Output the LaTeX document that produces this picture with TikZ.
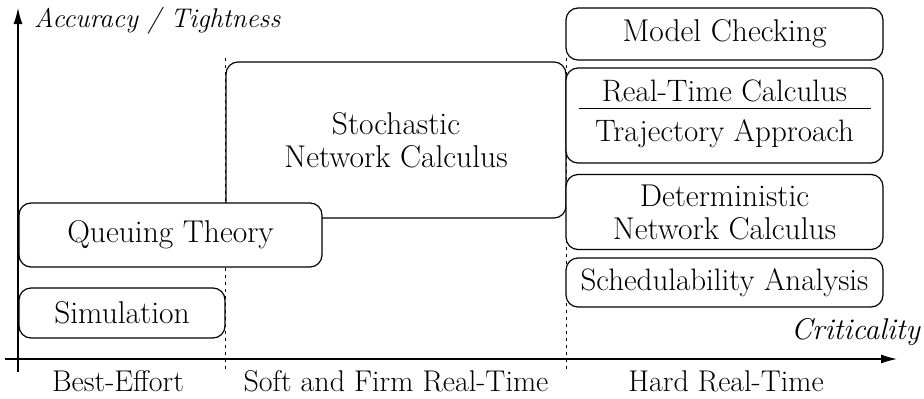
\documentclass[tikz,border=0pt]{standalone}
\usepackage{fontspec}
\usetikzlibrary{arrows.meta}
\newcommand{\boxsz}{\fontsize{31.5}{33}\selectfont}
\newcommand{\lblsz}{\fontsize{31}{33}\selectfont}
\newcommand{\botsz}{\fontsize{30}{32}\selectfont}
\begin{document}
\begin{tikzpicture}[x=1pt,y=-1pt,
  box/.style={draw, line width=1.2pt, rounded corners=12pt, fill=white, align=center, inner sep=0pt,
    font=\boxsz},
  lbl/.style={font=\lblsz, inner sep=0pt},
  bot/.style={font=\botsz, inner sep=0pt, anchor=base},
  ax/.style={line width=1.2pt, -{Latex[length=16pt,width=9pt]}},
  sep/.style={line width=0.8pt, dash pattern=on 3pt off 4pt}]
\useasboundingbox (0,0) rectangle (924,399);
% separators
\coordinate (s1t) at (225,58); \coordinate (s1b) at (225,372);
\coordinate (s2t) at (566,58); \coordinate (s2b) at (566,372);
\draw[sep] (s1t) -- (s1b);
\draw[sep] (s2t) -- (s2b);
% axes
\coordinate (yb) at (18,372); \coordinate (yt) at (18,8);
\coordinate (xl) at (5,359); \coordinate (xr) at (897,359);
\draw[ax] (yb) -- (yt);
\draw[ax] (xl) -- (xr);
\node[lbl, anchor=west, font=\fontsize{27}{30}\selectfont\itshape] (ylab) at (34,21) {Accuracy / Tightness};
\node[lbl, anchor=east, font=\fontsize{30}{32}\selectfont\itshape] (xlab) at (920,332) {Criticality};
% boxes
\node[box, minimum width=340pt, minimum height=156pt] (snc) at (396,140) {Stochastic\\Network Calculus};
\node[box, minimum width=303pt, minimum height=64pt] (qt) at (170.5,235) {Queuing Theory};
\node[box, minimum width=206pt, minimum height=50pt] (sim) at (122,313) {Simulation};
\node[box, minimum width=317pt, minimum height=52pt] (mc) at (724.5,34) {Model Checking};
\node[box, minimum width=317pt, minimum height=95pt] (rtc) at (724.5,115.5) {};
\node[lbl] (rtct) at (724.5,91) {Real-Time Calculus};
\node[lbl] (tra) at (724.5,134) {Trajectory Approach};
\coordinate (rl) at (579,108); \coordinate (rr) at (871,108);
\draw[line width=1pt] (rl) -- (rr);
\node[box, minimum width=317pt, minimum height=75pt] (dnc) at (724.5,212) {Deterministic\\Network Calculus};
\node[box, minimum width=317pt, minimum height=49pt, font=\lblsz] (sa) at (724.5,282.5) {Schedulability Analysis};
% bottom labels
\node[bot] (be) at (118,391) {Best-Effort};
\node[bot] (sf) at (396,391) {Soft and Firm Real-Time};
\node[bot] (hr) at (726,391) {Hard Real-Time};
\end{tikzpicture}
\end{document}
